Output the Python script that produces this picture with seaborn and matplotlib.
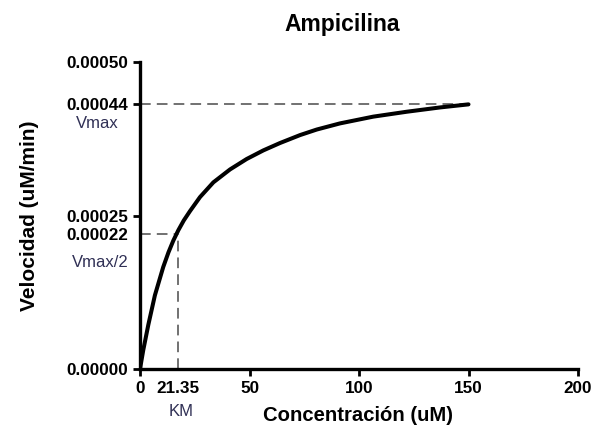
import matplotlib
matplotlib.use("Agg")
import matplotlib.pyplot as plt
import seaborn as sns
import pandas as pd

# ---- data ----
concentracion = [0, 1.5, 3.8, 6.8, 10.6, 13.0, 15.2, 17.5, 20.0, 22.8, 27.4,
                 33.5, 41.1, 48.7, 56.3, 63.9, 73.1, 80.7, 91.3, 106.5, 121.8,
                 137.0, 150.0]
velocidad = [0.0, 0.0000310, 0.0000720, 0.000120, 0.000166, 0.000190,
             0.000209, 0.000226, 0.000242, 0.000257, 0.000280, 0.000304,
             0.000325, 0.000342, 0.000356, 0.000368, 0.000381, 0.000390,
             0.000400, 0.000411, 0.000419, 0.000426, 0.000431]

vmax_pos = 0.000432      # where the Vmax reference line is drawn
half_vmax_pos = 0.00022  # Vmax/2 reference line
km_pos = 17.4            # where the KM reference line is drawn

x_ticks = [0, km_pos, 50, 100, 150, 200]
x_tick_labels = ["0", "21.35", "50", "100", "150", "200"]
y_ticks = [0.0, half_vmax_pos, 0.00025, vmax_pos, 0.0005]
y_tick_labels = ["0.00000", "0.00022", "0.00025", "0.00044", "0.00050"]

title = "Ampicilina"
x_label = "Concentración (uM)"
y_label = "Velocidad (uM/min)"

# ---- style ----
sns.set_theme(style="white")
plt.rcParams["font.family"] = ["Liberation Sans", "DejaVu Sans"]
plt.rcParams["text.color"] = "black"
plt.rcParams["axes.labelcolor"] = "black"

fig = plt.figure(figsize=(5.92, 4.26), dpi=100)
ax = fig.add_axes([140 / 592, (426 - 369) / 426, 438 / 592, 307 / 426])

df = pd.DataFrame({"x": concentracion, "y": velocidad})

dash_kw = dict(color="#4a4a4a", linewidth=1.1, dashes=(7, 4))
ax.plot([0, 150], [vmax_pos, vmax_pos], **dash_kw, zorder=1)
ax.plot([0, km_pos], [half_vmax_pos, half_vmax_pos], **dash_kw, zorder=1)
ax.plot([km_pos, km_pos], [0, half_vmax_pos], **dash_kw, zorder=1)

sns.lineplot(data=df, x="x", y="y", ax=ax, color="black", linewidth=2.9,
             zorder=3, estimator=None, sort=False)
ax.lines[-1].set_solid_capstyle("round")
ax.lines[-1].set_solid_joinstyle("round")

ax.set_xlim(0, 200)
ax.set_ylim(0, 0.0005)
ax.set_xticks(x_ticks)
ax.set_xticklabels(x_tick_labels)
ax.set_yticks(y_ticks)
ax.set_yticklabels(y_tick_labels)

for lab in ax.get_xticklabels() + ax.get_yticklabels():
    lab.set_fontweight("bold")
    lab.set_fontsize(12.3)
    lab.set_color("black")

ax.tick_params(axis="both", which="major", length=5, width=2, color="black",
               pad=3.5, direction="out", bottom=True, left=True)
# KM and Vmax/2 labels have no tick marks
ax.xaxis.get_major_ticks()[1].tick1line.set_visible(False)
ax.yaxis.get_major_ticks()[1].tick1line.set_visible(False)

for side in ["top", "right"]:
    ax.spines[side].set_visible(False)
for side in ["left", "bottom"]:
    ax.spines[side].set_linewidth(2.4)
    ax.spines[side].set_color("black")

ax.set_title(title, fontsize=16.5, fontweight="bold", pad=22, x=0.461,
             color="black")
ax.set_xlabel(x_label, fontsize=14.6, fontweight="bold", labelpad=7, x=0.498,
              color="black")
ax.set_ylabel(y_label, fontsize=15, fontweight="bold", labelpad=20,
              color="black")

note_color = "#303055"
ax.annotate("Vmax", xy=(0, vmax_pos), xycoords=("axes fraction", "data"),
            xytext=(-43, -20), textcoords="offset pixels", ha="center",
            va="center", fontsize=12, color=note_color)
ax.annotate("Vmax/2", xy=(0, half_vmax_pos), xycoords=("axes fraction", "data"),
            xytext=(-40, -29), textcoords="offset pixels", ha="center",
            va="center", fontsize=12, color=note_color)
ax.annotate("KM", xy=(km_pos, 0), xycoords=("data", "axes fraction"),
            xytext=(3, -43), textcoords="offset pixels", ha="center",
            va="center", fontsize=12, color=note_color)

fig.savefig("out.png", dpi=100, facecolor="white")
